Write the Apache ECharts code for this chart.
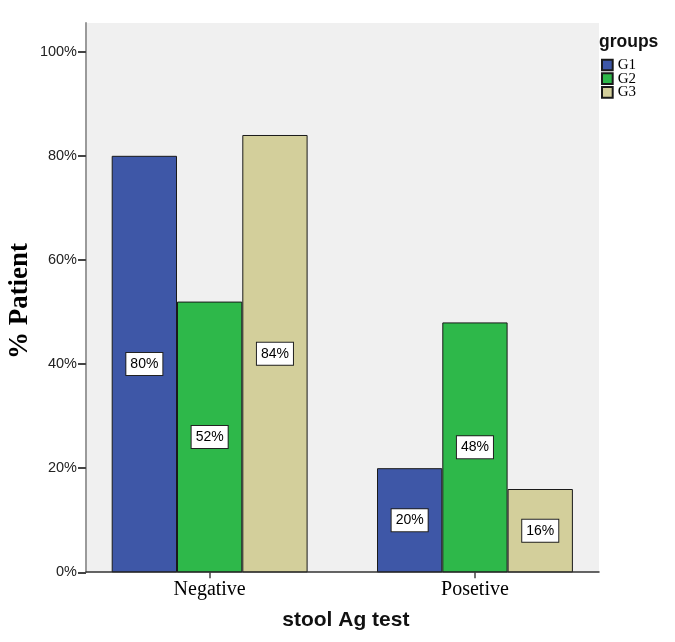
<!DOCTYPE html>
<html><head><meta charset="utf-8">
<script src="https://cdn.jsdelivr.net/npm/echarts@6/dist/echarts.min.js"></script>
<style>html,body{margin:0;padding:0;background:#fff}#c{width:675px;height:642px}</style>
</head><body><div id="c"></div>
<script>
const categories = ['Negative', 'Posetive'];
const groupNames = ['G1', 'G2', 'G3'];
const g1Values = [80, 20];
const g2Values = [52, 48];
const g3Values = [84, 16];
const yMin = 0, yMax = 100, yStep = 20;
const colors = ['#3e57a7', '#2eb84a', '#d3cf9b'];
const seriesValues = [g1Values, g2Values, g3Values];

const chart = echarts.init(document.getElementById('c'));
const sans = 'Liberation Sans, Arial, sans-serif';
const serif = 'Liberation Serif, Times New Roman, serif';

const option = {
  animation: false,
  backgroundColor: '#fff',
  title: {
    text: 'groups', left: 599, top: 33, padding: 0,
    textStyle: { fontFamily: sans, fontWeight: 'bold', fontSize: 17.5, color: '#111' }
  },
  legend: {
    data: groupNames, orient: 'vertical', left: 601, top: 57.5, padding: 0,
    icon: 'rect', itemWidth: 10.7, itemHeight: 10.7, itemGap: -1.3, selectedMode: false,
    textStyle: { fontFamily: serif, fontSize: 15, lineHeight: 12, color: '#000' }
  },
  grid: [
    { left: 86, right: 76, top: 23, bottom: 70, show: true, backgroundColor: '#f0f0f0', borderWidth: 0, outerBoundsMode: 'none' },
    { left: 77, right: 67.4, top: 51.7, bottom: 69.7, outerBoundsMode: 'none' },
    { left: 86, right: 76, top: 51.7, bottom: 69.7, outerBoundsMode: 'none' }
  ],
  xAxis: [
    { gridIndex: 0, type: 'category', data: categories,
      axisLine: { show: true, lineStyle: { color: '#333', width: 1.5 } },
      axisTick: { show: false }, axisLabel: { show: false }, splitLine: { show: false } },
    { gridIndex: 1, type: 'category', data: categories,
      axisLine: { show: false },
      axisTick: { show: true, alignWithLabel: true, length: 6, lineStyle: { color: '#444', width: 1.5 } },
      axisLabel: { fontFamily: serif, fontSize: 20, color: '#000', margin: 7 },
      name: 'stool Ag test', nameLocation: 'middle', nameGap: 37,
      nameTextStyle: { fontFamily: sans, fontWeight: 'bold', fontSize: 21, color: '#111', padding: [0, 0, 0, 7] } },
    { gridIndex: 2, type: 'category', data: categories, show: false }
  ],
  yAxis: [
    { gridIndex: 0, type: 'value', min: 0, max: 1,
      axisLine: { show: true, lineStyle: { color: '#9a9a9a', width: 2 } },
      axisTick: { show: false }, axisLabel: { show: false }, splitLine: { show: false },
      name: '% Patient', nameLocation: 'middle', nameGap: 52,
      nameTextStyle: { fontFamily: serif, fontWeight: 'bold', fontSize: 27, color: '#000', padding: [0, 7, 0, 0] } },
    { gridIndex: 1, type: 'value', min: yMin, max: yMax, show: false, splitLine: { show: false } },
    { gridIndex: 2, type: 'value', min: yMin, max: yMax, interval: yStep,
      axisLine: { show: false },
      axisTick: { show: true, length: 8, lineStyle: { color: '#444', width: 2 } },
      axisLabel: { formatter: '{value}%', fontFamily: sans, fontSize: 14.5, color: '#222', margin: 9 },
      splitLine: { show: false } }
  ],
  series: groupNames.map((name, i) => ({
    name: name, type: 'bar', xAxisIndex: 1, yAxisIndex: 1,
    data: seriesValues[i], barWidth: 65.3, barGap: '0%',
    itemStyle: { color: colors[i], borderColor: '#1a1a1a', borderWidth: 1 },
    label: {
      show: true, position: 'inside', formatter: '{c}%',
      fontFamily: sans, fontSize: 14, color: '#000', lineHeight: 16,
      backgroundColor: '#fff', borderColor: '#222', borderWidth: 1, padding: [3, 4]
    }
  }))
};
chart.setOption(option);
</script></body></html>
